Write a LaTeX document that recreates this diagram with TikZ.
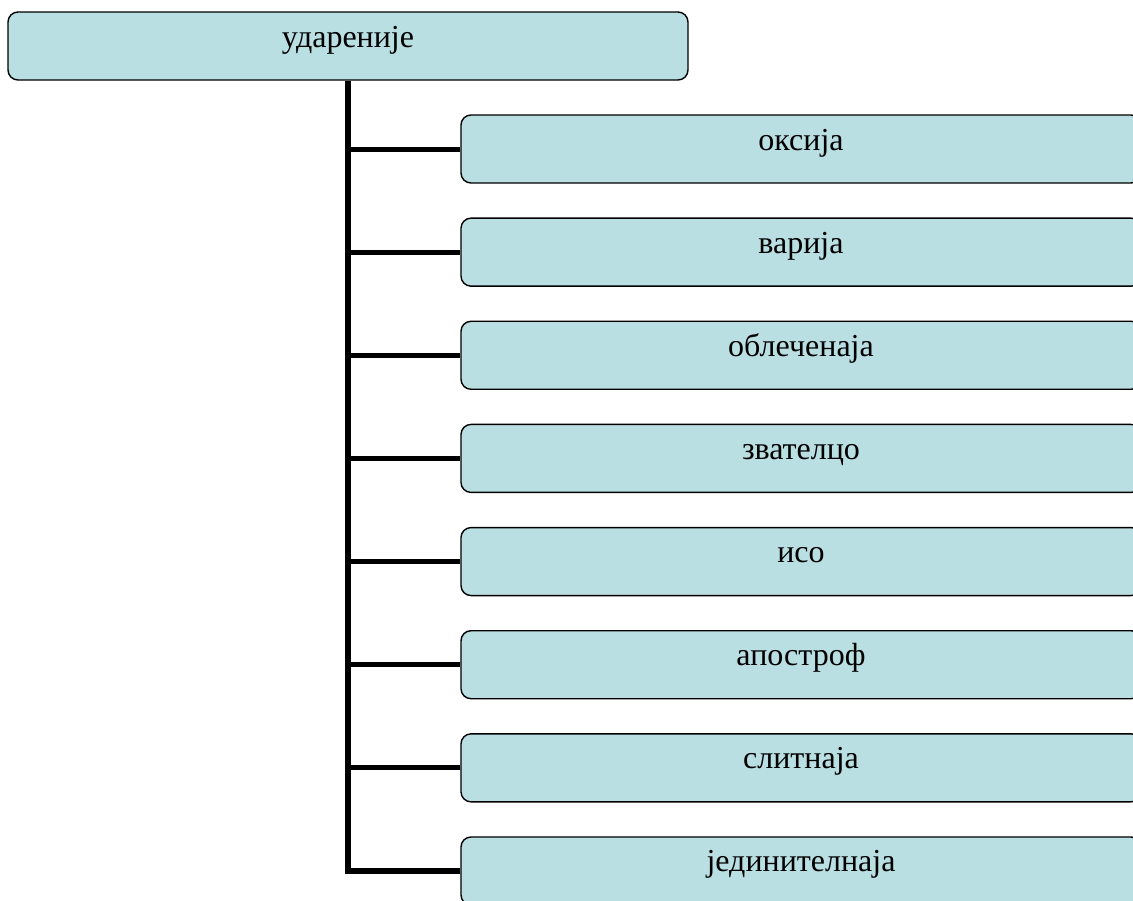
\documentclass[tikz,border=0pt]{standalone}
\usepackage{fontspec}
\setmainfont{Liberation Serif}
\usetikzlibrary{positioning}
\definecolor{boxblue}{RGB}{185,223,227}
\tikzset{
  box/.style    = {draw=black, line width=1.4pt, fill=boxblue, rounded corners=10pt,
                   minimum width=680pt, inner xsep=0pt, inner ysep=0pt,
                   text height=35pt, text depth=33pt,
                   font=\fontsize{32}{36}\selectfont},
  trunk/.style  = {line width=5.5pt},
  branch/.style = {line width=5pt},
}
\begin{document}
\begin{tikzpicture}[x=1pt,y=-1pt]
  \clip (0,0) rectangle (1133,900);
  \useasboundingbox (0,0) rectangle (1133,900);
  \node[box] (root) at (348,46) {ударениј\symbol{"0435}};
  \foreach \lbl [count=\i] in {оксија,варија,облеченаја,звателцо,исо,апостроф,слитнаја,јединителнаја}
    \node[box] (child\i) at (801,{149+(\i-1)*103.14}) {\lbl};
  \draw[trunk] (root.south) |- (child8.west);
  \foreach \i in {1,...,7}
    \draw[branch] (root.south |- child\i.west) -- (child\i.west);
\end{tikzpicture}
\end{document}
